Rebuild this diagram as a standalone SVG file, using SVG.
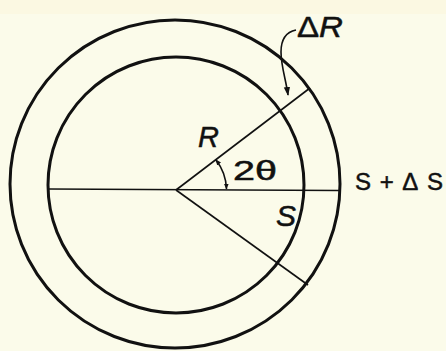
<svg xmlns="http://www.w3.org/2000/svg" width="446" height="351" viewBox="0 0 446 351">
<defs>
<style>
.ring{fill:none;stroke:#111;stroke-width:3}
.ln{fill:none;stroke:#111;stroke-width:1.6}
.lbl{font-family:"Liberation Sans","DejaVu Sans",sans-serif;fill:#111;stroke:#111;stroke-width:0.5}
.it{font-style:italic}
</style>
<marker id="ah" viewBox="0 0 10 10" refX="9" refY="5" markerWidth="6" markerHeight="6" orient="auto-start-reverse" markerUnits="userSpaceOnUse">
<path d="M0,1 L10,5 L0,9 z" fill="#111"/>
</marker>
<marker id="ahb" viewBox="0 0 10 10" refX="9" refY="5" markerWidth="9" markerHeight="9" orient="auto" markerUnits="userSpaceOnUse">
<path d="M0,1.5 L10,5 L0,8.5 z" fill="#111"/>
</marker>
</defs>
<rect width="446" height="351" fill="#fbfbea"/>
<rect width="446" height="14" fill="#fbf8e2"/>
<g id="outer-circle"><ellipse class="ring" cx="175" cy="184" rx="165" ry="164"/></g>
<g id="inner-circle"><ellipse class="ring" cx="176" cy="185" rx="128" ry="128"/></g>
<g id="connectors">
<line class="ln" x1="49" y1="189" x2="339" y2="190.5"/>
<line class="ln" x1="176" y1="190" x2="310" y2="88"/>
<line class="ln" x1="176" y1="190" x2="308" y2="285"/>
<path class="ln" d="M215.8,159.7 A50 50 0 0 1 226.5,189" marker-start="url(#ah)" marker-end="url(#ah)"/>
<path class="ln" d="M296,30 C286,32 281,40 281,52 C281,66 286,80 288,95" marker-end="url(#ahb)"/>
</g>
<g id="label-dR"><text class="lbl" x="297" y="37" font-size="29" textLength="46" lengthAdjust="spacingAndGlyphs">Δ<tspan class="it">R</tspan></text></g>
<g id="label-R"><text class="lbl it" x="198" y="147" font-size="29">R</text></g>
<g id="label-2theta"><text class="lbl" x="233" y="180" font-size="27" textLength="44" lengthAdjust="spacingAndGlyphs">2θ</text></g>
<g id="label-S"><text class="lbl it" x="276" y="226" font-size="30">S</text></g>
<g id="label-SdS"><text class="lbl" x="355" y="190" font-size="24" textLength="88" lengthAdjust="spacing">S+ΔS</text></g>
</svg>
